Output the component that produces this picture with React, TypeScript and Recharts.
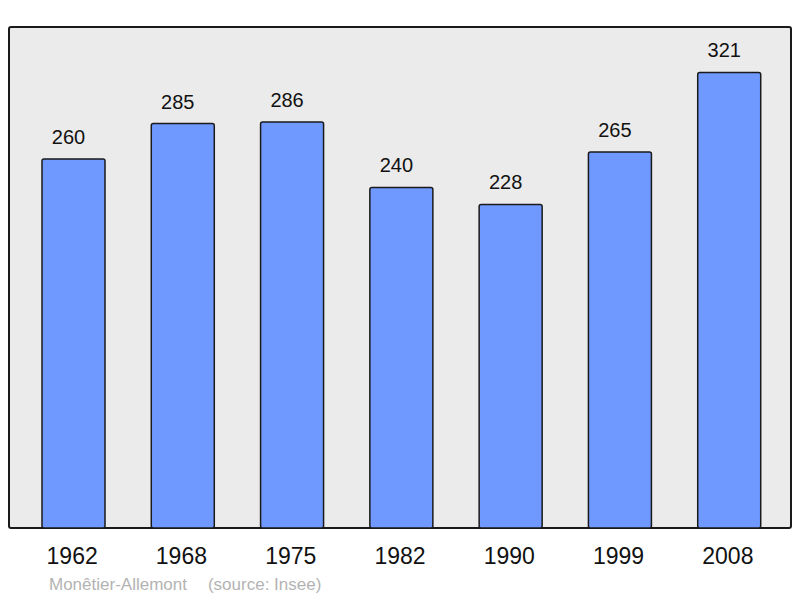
import React from 'react';
import { BarChart, Bar, XAxis, YAxis, LabelList } from 'recharts';

const years = ['1962', '1968', '1975', '1982', '1990', '1999', '2008'];
const population = [260, 285, 286, 240, 228, 265, 321];

const chartData = years.map((year, i) => ({ year, population: population[i] }));

const FONT = '"Liberation Sans", Arial, sans-serif';

const App: React.FC = () => {
  return (
    <div style={{ position: 'absolute', left: 0, top: 0, width: 800, height: 598, background: '#fff', fontFamily: FONT }}>
      <div
        style={{
          position: 'absolute',
          left: 8,
          top: 26,
          width: 780,
          height: 499,
          background: '#ebebeb',
          border: '2px solid #1a1a1a',
          borderRadius: 3,
        }}
      />
      <div style={{ position: 'absolute', left: 0, top: 0 }}>
        <BarChart width={800} height={598} data={chartData} margin={{ top: 27, right: 16, left: 19, bottom: 30 }}>
          <XAxis
            dataKey="year"
            axisLine={false}
            tickLine={false}
            tickMargin={14}
            height={40}
            interval={0}
            dx={-1.5}
            tick={{ fill: '#111', fontSize: 23, fontFamily: FONT }}
          />
          <YAxis hide domain={[0, 353]} />
          <Bar
            dataKey="population"
            fill="#7099ff"
            stroke="#1a1a1a"
            strokeWidth={1.5}
            barSize={63}
            radius={2}
            isAnimationActive={false}
          >
            <LabelList
              dataKey="population"
              position="top"
              offset={15}
              dx={-5}
              fill="#111"
              fontSize={20}
              fontFamily={FONT}
            />
          </Bar>
        </BarChart>
      </div>
      <div
        style={{
          position: 'absolute',
          left: 49,
          top: 575,
          fontSize: 17,
          color: '#b3b3b3',
          whiteSpace: 'pre',
        }}
      >
        <span>Monêtier-Allemont</span>
        <span style={{ marginLeft: 21 }}>(source: Insee)</span>
      </div>
    </div>
  );
};

export default App;
